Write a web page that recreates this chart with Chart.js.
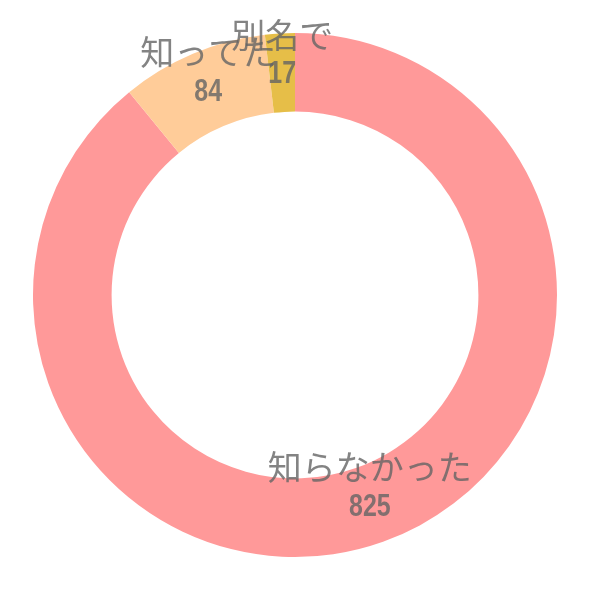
<!DOCTYPE html>
<html lang="ja">
<head>
    <meta charset="UTF-8">
    <title>知ってた？</title>
    <script src="https://cdn.jsdelivr.net/npm/chart.js"></script>
    <style>
        html, body { margin: 0; padding: 0; background: #fff; }
        .chart-box { width: 590px; height: 590px; }
    </style>
</head>
<body>
    <div class="chart-box">
        <canvas id="answerChart"></canvas>
    </div>

    <script>
        // data
        const answers = ['知らなかった', '知ってた', '別名で'];
        const counts = [825, 84, 17];
        const sliceColors = ['#FF9999', '#FFCC99', '#E6BE48'];

        // label + count drawn in the middle of each ring segment
        const ringLabels = {
            id: 'ringLabels',
            afterDatasetsDraw(chart) {
                const ctx = chart.ctx;
                const meta = chart.getDatasetMeta(0);
                ctx.save();
                ctx.textAlign = 'center';
                ctx.textBaseline = 'middle';
                ctx.fillStyle = 'rgba(100,100,100,0.8)';
                meta.data.forEach((arc, i) => {
                    const p = arc.tooltipPosition();
                    // category name
                    ctx.font = '34px "Noto Sans CJK JP"';
                    ctx.fillText(answers[i], p.x, p.y - 38);
                    // count, narrow digits
                    ctx.save();
                    ctx.translate(p.x, p.y + 2);
                    ctx.scale(0.78, 1);
                    ctx.font = 'bold 32px "Liberation Sans"';
                    ctx.fillText(String(counts[i]), 0, 0);
                    ctx.restore();
                });
                ctx.restore();
            }
        };

        const ctx = document.getElementById('answerChart').getContext('2d');
        const answerChart = new Chart(ctx, {
            type: 'doughnut',
            data: {
                labels: answers,
                datasets: [{
                    data: counts,
                    backgroundColor: sliceColors,
                    borderWidth: 0
                }]
            },
            options: {
                responsive: true,
                maintainAspectRatio: false,
                animation: false,
                cutout: '70%',
                layout: { padding: 33 },
                plugins: {
                    legend: { display: false },
                    tooltip: { enabled: false }
                }
            },
            plugins: [ringLabels]
        });
    </script>
</body>
</html>
